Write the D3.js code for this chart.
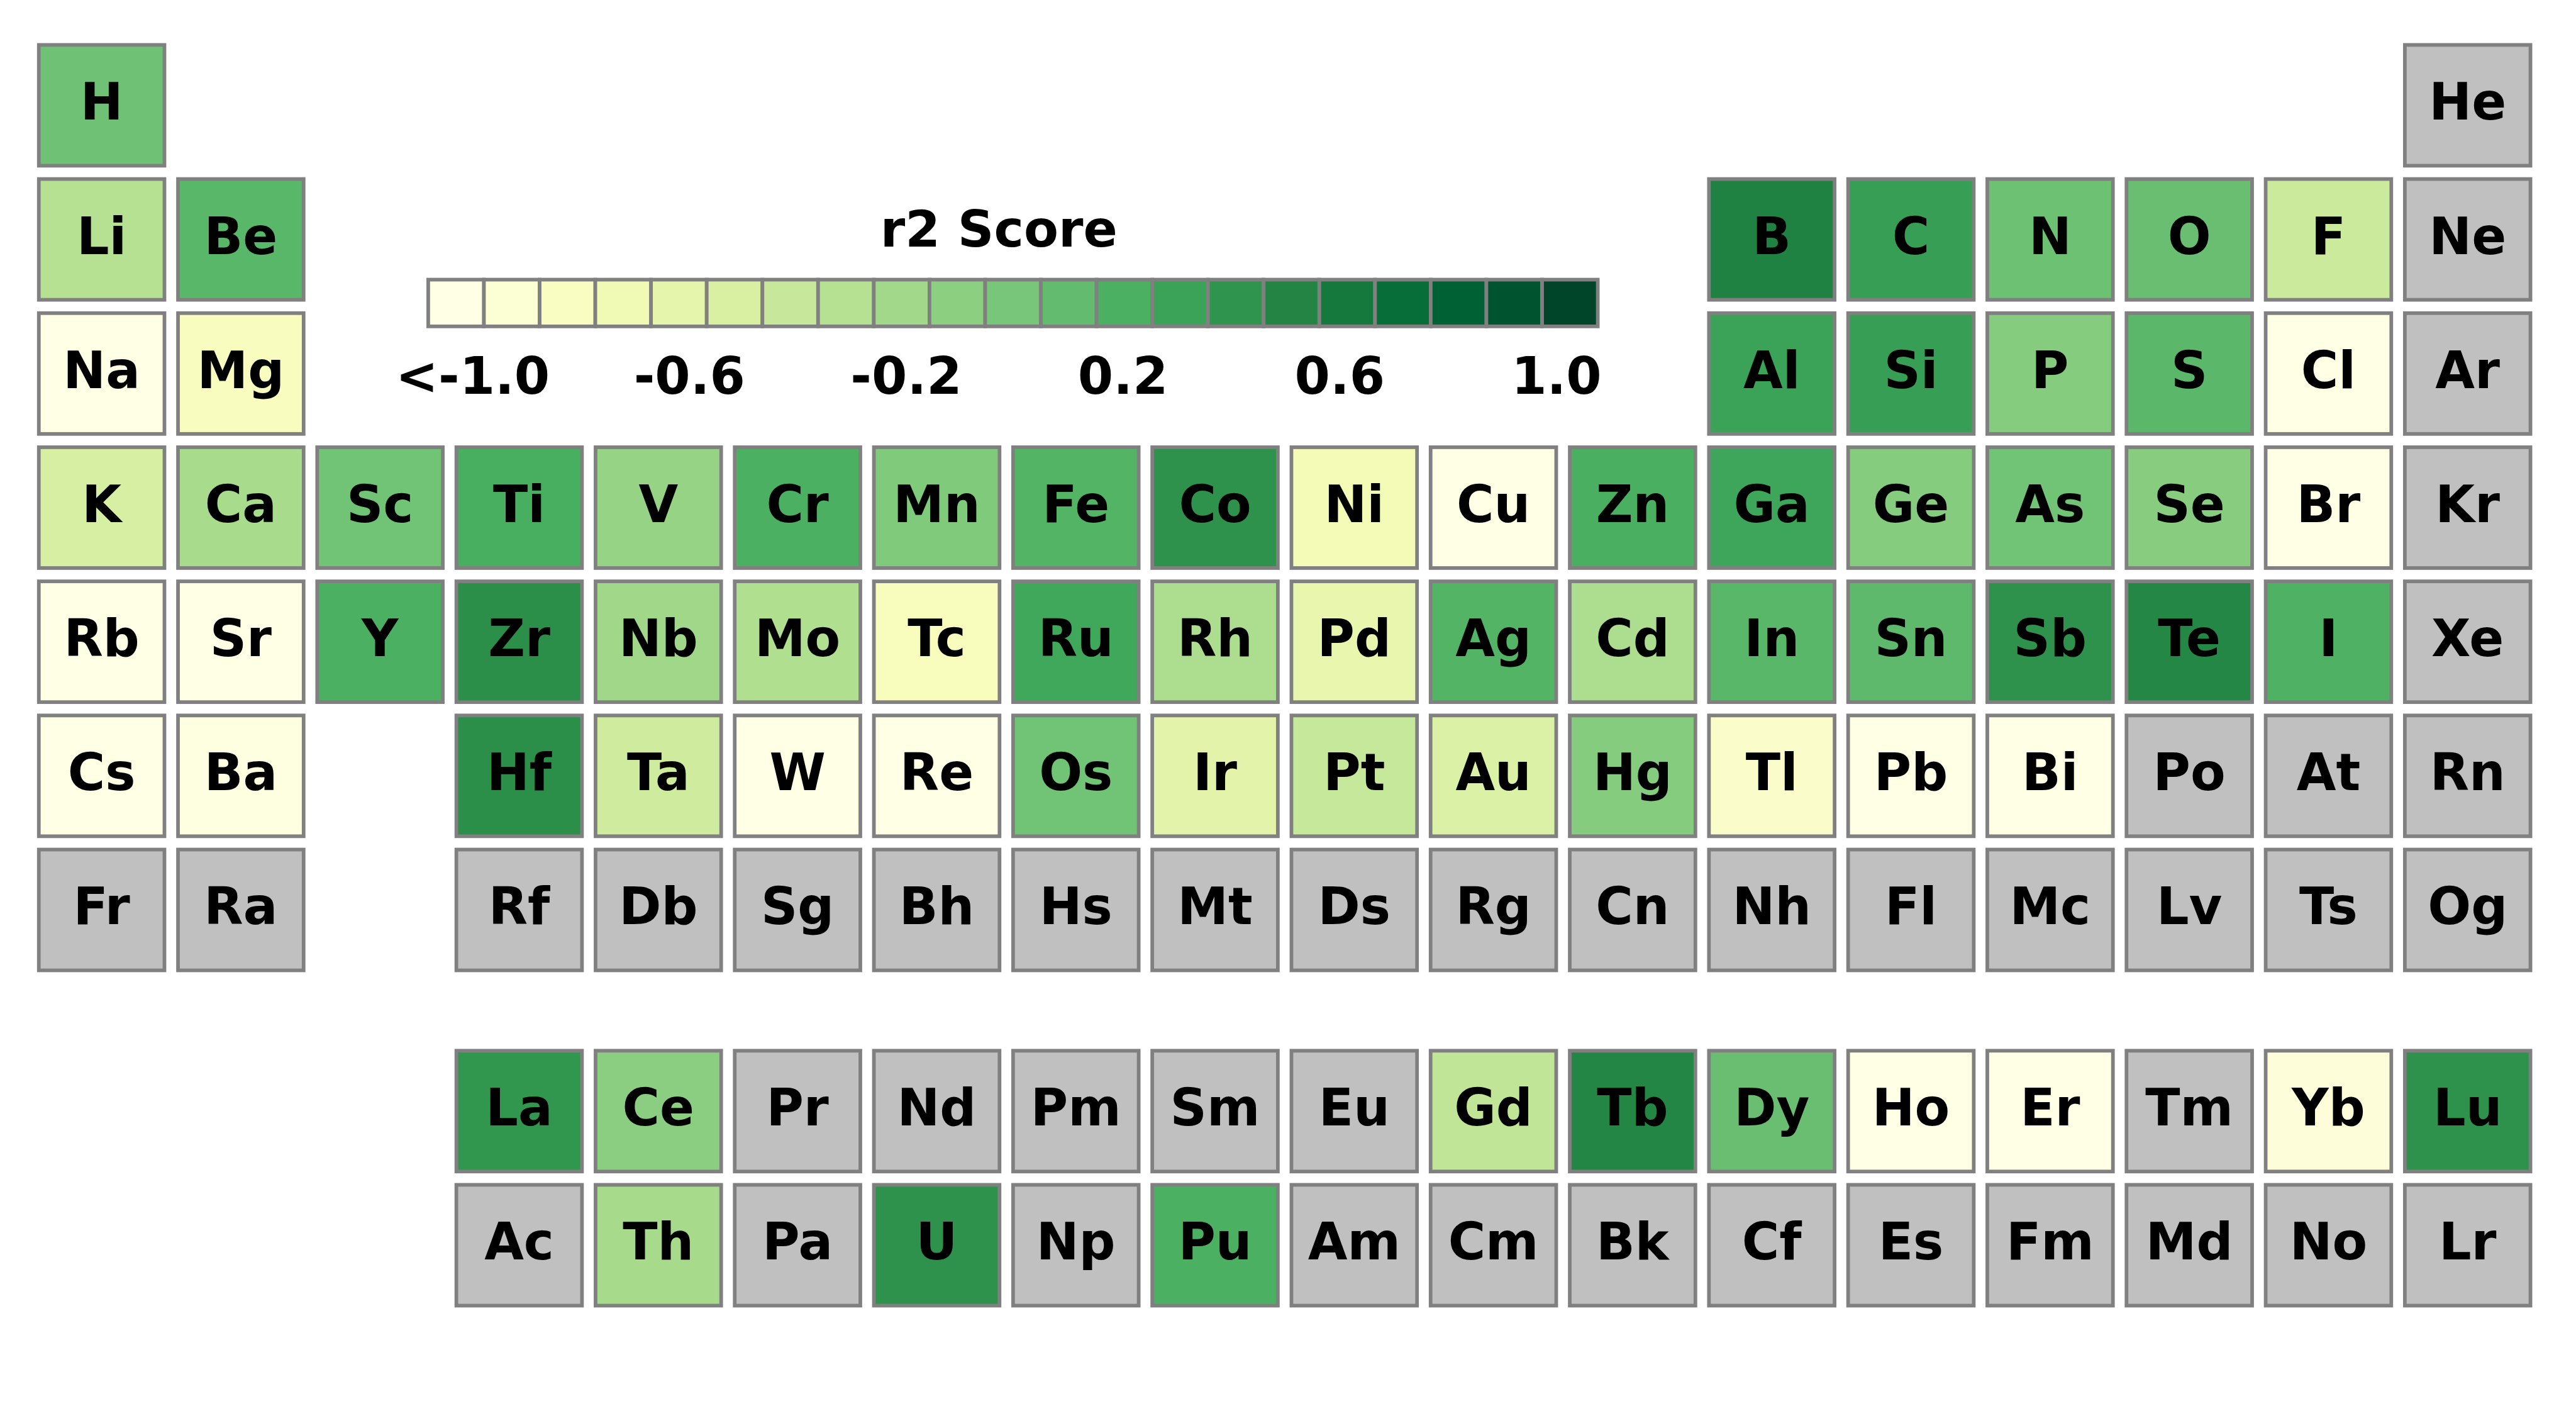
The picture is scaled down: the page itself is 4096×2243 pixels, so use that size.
<!DOCTYPE html>
<html>
<head>
<meta charset="utf-8">
<script src="https://cdn.jsdelivr.net/npm/d3@7"></script>
<style>
  html, body { margin: 0; padding: 0; background: #ffffff; }
  svg { display: block; }
  text { font-family: "DejaVu Sans", sans-serif; font-weight: bold; fill: #000; }
</style>
</head>
<body>
<script>
// ---------------- DATA ----------------
const symbols = ["H","He","Li","Be","B","C","N","O","F","Ne","Na","Mg","Al","Si","P","S","Cl","Ar",
  "K","Ca","Sc","Ti","V","Cr","Mn","Fe","Co","Ni","Cu","Zn","Ga","Ge","As","Se","Br","Kr",
  "Rb","Sr","Y","Zr","Nb","Mo","Tc","Ru","Rh","Pd","Ag","Cd","In","Sn","Sb","Te","I","Xe",
  "Cs","Ba","La","Ce","Pr","Nd","Pm","Sm","Eu","Gd","Tb","Dy","Ho","Er","Tm","Yb","Lu",
  "Hf","Ta","W","Re","Os","Ir","Pt","Au","Hg","Tl","Pb","Bi","Po","At","Rn",
  "Fr","Ra","Ac","Th","Pa","U","Np","Pu","Am","Cm","Bk","Cf","Es","Fm","Md","No","Lr",
  "Rf","Db","Sg","Bh","Hs","Mt","Ds","Rg","Cn","Nh","Fl","Mc","Lv","Ts","Og"];

// r2 score per element (null = no data, grey)
const r2Scores = [0.04,null,-0.30,0.14,0.53,0.33,0.05,0.07,-0.42,null,-1.5,-0.78,0.30,0.33,-0.06,0.13,-1.5,null,
  -0.49,-0.23,0.03,0.22,-0.14,0.20,-0.04,0.17,0.41,-0.72,-1.5,0.21,0.28,-0.06,0.03,-0.07,-1.5,null,
  -1.2,-1.2,0.20,0.43,-0.19,-0.27,-0.77,0.27,-0.25,-0.63,0.17,-0.25,0.14,0.12,0.41,0.48,0.19,null,
  -1.2,-0.97,0.38,-0.09,null,null,null,null,null,-0.36,0.49,0.07,-1.1,-1.05,null,-0.93,0.41,
  0.43,-0.44,-1.1,-1.1,0.03,-0.58,-0.39,-0.52,-0.06,-0.84,-1.1,-1.05,null,null,null,
  null,null,null,-0.22,null,0.41,null,0.20,null,null,null,null,null,null,null,null,null,
  null,null,null,null,null,null,null,null,null,null,null,null,null,null,null];

const colorbarValues = d3.range(21).map(i => -1 + 0.1 * i);
const tickValues = [-1.0, -0.6, -0.2, 0.2, 0.6, 1.0];
const tickLabels = ["<-1.0", "-0.6", "-0.2", "0.2", "0.6", "1.0"];
const colorbarTitle = "r2 Score";

// YlGn colour stops
const ylgn = ["#ffffe5","#f7fcb9","#d9f0a3","#addd8e","#78c679","#41ab5d","#238443","#006837","#004529"];

// ---------------- LAYOUT ----------------
function position(z) {
  if (z === 1) return [0, 0];
  if (z === 2) return [0, 17];
  if (z <= 4) return [1, z - 3];
  if (z <= 10) return [1, z - 5 + 12];
  if (z <= 12) return [2, z - 11];
  if (z <= 18) return [2, z - 13 + 12];
  if (z <= 36) return [3, z - 19];
  if (z <= 54) return [4, z - 37];
  if (z <= 56) return [5, z - 55];
  if (z <= 71) return [7.5, z - 57 + 3];
  if (z <= 86) return [5, z - 72 + 3];
  if (z <= 88) return [6, z - 87];
  if (z <= 103) return [8.5, z - 89 + 3];
  return [6, z - 104 + 3];
}

const W = 4096, H = 2243, REFW = 4245;
const k = W / REFW;

const svg = d3.select("body").append("svg")
  .attr("width", W).attr("height", H)
  .attr("viewBox", `0 0 ${W} ${H}`);
svg.append("rect").attr("width", W).attr("height", H).attr("fill", "#fff");
const g = svg.append("g").attr("transform", `scale(${k})`);

const color = d3.scaleLinear()
  .domain(d3.range(9).map(i => -1 + i * 0.25))
  .range(ylgn)
  .interpolate(d3.interpolateRgb)
  .clamp(true);

const xCol = d3.scaleLinear().domain([0, 17]).range([64, 64 + 17 * 229.35]);
const yRow = d3.scaleLinear().domain([0, 8.5]).range([74, 74 + 8.5 * 220.94]);
const tileW = 207, tileH = 199;

const data = symbols.map((s, i) => {
  const [r, c] = position(i + 1);
  return { sym: s, v: r2Scores[i], r, c };
});

const tiles = g.append("g").selectAll("g").data(data).join("g");
tiles.append("rect")
  .attr("x", d => xCol(d.c))
  .attr("y", d => yRow(d.r))
  .attr("width", tileW).attr("height", tileH)
  .attr("fill", d => d.v === null ? "#c0c0c0" : color(d.v))
  .attr("stroke", "#808080").attr("stroke-width", 6);
tiles.append("text")
  .attr("x", d => xCol(d.c) + tileW / 2)
  .attr("y", d => yRow(d.r) + tileH / 2 + 23.8)
  .attr("text-anchor", "middle")
  .attr("font-size", 84)
  .text(d => d.sym);

// ---------------- COLORBAR ----------------
const cbLeft = 705.7, cbCell = (2636 - 702.7 - 6) / 21, cbTop = 460.7, cbH = 77;
const cbX = d3.scaleLinear().domain([-1, 1]).range([cbLeft, cbLeft + 20 * cbCell]);
const cb = g.append("g");
cb.selectAll("rect").data(colorbarValues).join("rect")
  .attr("x", d => cbX(d))
  .attr("y", cbTop)
  .attr("width", cbCell).attr("height", cbH)
  .attr("fill", d => color(d))
  .attr("stroke", "#808080").attr("stroke-width", 6);

const tickX = d3.scaleLinear().domain([-1, 1]).range([779, 2565]);
cb.selectAll("text.tick").data(tickValues).join("text")
  .attr("class", "tick")
  .attr("x", d => tickX(d))
  .attr("y", 649)
  .attr("text-anchor", "middle")
  .attr("font-size", 84)
  .text((d, i) => tickLabels[i]);

cb.append("text")
  .attr("x", 1646).attr("y", 406.7)
  .attr("text-anchor", "middle")
  .attr("font-size", 83)
  .text(colorbarTitle);
</script>
</body>
</html>
